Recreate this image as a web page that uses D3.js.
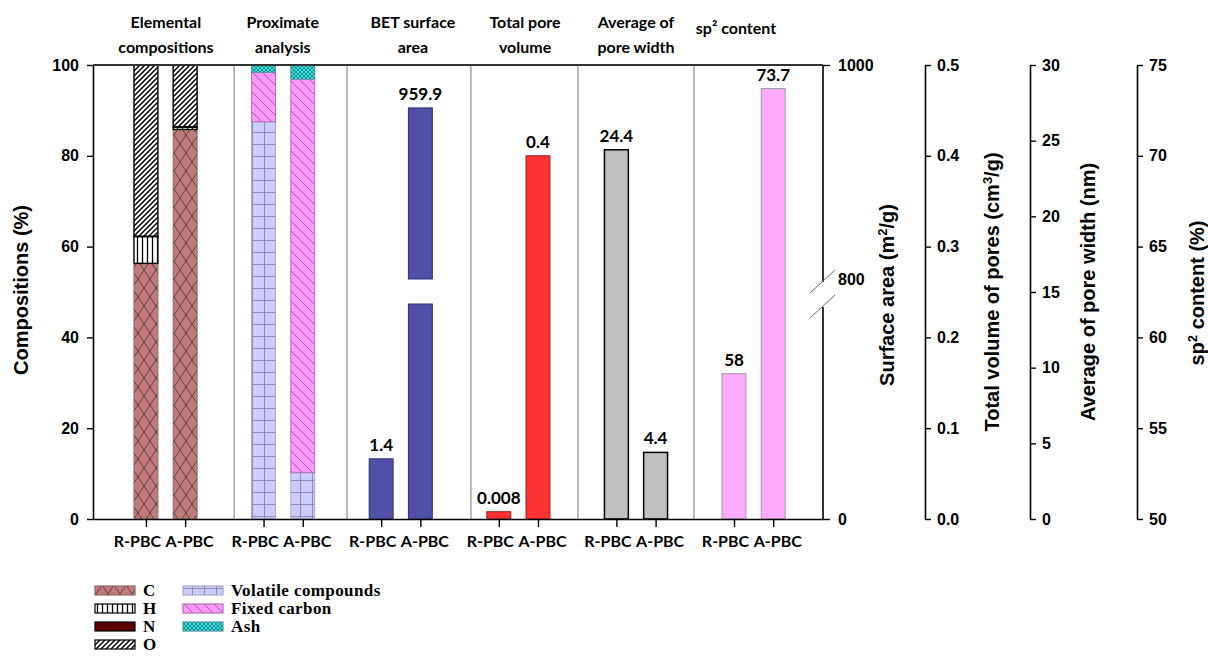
<!DOCTYPE html>
<html>
<head>
<meta charset="utf-8">
<script src="https://cdn.jsdelivr.net/npm/d3@7"></script>
<style>
  body { margin: 0; background: #fff; }
  svg { display: block; }
  .tickTxt { font-family: "Liberation Sans", Arial, sans-serif; font-weight: bold; font-size: 16px; }
  .catTxt { font-family: "Lato", sans-serif; font-weight: bold; font-size: 16px; }
  .title { font-family: "Lato", sans-serif; font-weight: bold; font-size: 16px; }
  .axTitle { font-family: "Liberation Sans", Arial, sans-serif; font-weight: bold; font-size: 20px; }
  .val { font-family: "Lato", sans-serif; font-weight: bold; font-size: 17px; }
  .leg { font-family: "Liberation Serif", "Times New Roman", serif; font-weight: bold; font-size: 17px; letter-spacing: 0.4px; }
</style>
</head>
<body>
<svg id="chart"></svg>
<script>
var width = 1208, height = 660;

// ---- data ----
var samples = ["R-PBC", "A-PBC"];
var groupTitles = [["Elemental", "compositions"], ["Proximate", "analysis"], ["BET surface", "area"],
                   ["Total pore", "volume"], ["Average of", "pore width"], ["sp² content"]];

var elemKeys = ["C", "H", "N", "O"];
var elemC = [56.3, 85.8];
var elemH = [5.9, 0.5];
var elemN = [0.1, 0.1];
var elemO = [37.7, 13.6];

var proxKeys = ["Volatile compounds", "Fixed carbon", "Ash"];
var volatile = [87.5, 10.2];
var fixedCarbon = [10.9, 86.7];
var ash = [1.6, 3.1];

var surfaceArea = [1.4, 959.9];
var poreVolume = [0.008, 0.4];
var poreWidth = [24.4, 4.4];
var sp2Content = [58, 73.7];
var surfaceLabels = ["1.4", "959.9"];
var volumeLabels = ["0.008", "0.4"];
var widthLabels = ["24.4", "4.4"];
var sp2Labels = ["58", "73.7"];

var pctTicks = [0, 20, 40, 60, 80, 100];
var saTicks = [0, 800, 1000];
var volTicks = [0, 0.1, 0.2, 0.3, 0.4, 0.5];
var widTicks = [0, 5, 10, 15, 20, 25, 30];
var sp2Ticks = [50, 55, 60, 65, 70, 75];

// ---- layout ----
var plotTop = 65, plotBottom = 519, plotLeft = 93, plotRight = 823;
var sepUnits = [3.25, 6.13, 9.29, 12.02, 14.98];
var titleUnits = [1.51, 4.49, 7.81, 10.67, 13.5, 16.05];
var catShift = [-9, 4];

var svg = d3.select("#chart").attr("width", width).attr("height", height);

var x = d3.scaleLinear().domain([-0.35, 18.27]).range([plotLeft, plotRight]);
var barW = x(1.61) - x(1);
function pos(g, i) { return g * 3 + 1 + i; }

var yPct = d3.scaleLinear().domain([0, 100]).range([plotBottom, plotTop]);
var ySaLow = d3.scaleLinear().domain([0, 5]).range([plotBottom, 304]);
var ySaHigh = d3.scaleLinear().domain([800, 1000]).range([279, plotTop]);
var yVol = d3.scaleLinear().domain([0, 0.5]).range([plotBottom, plotTop]);
var yWid = d3.scaleLinear().domain([0, 30]).range([plotBottom, plotTop]);
var ySp2 = d3.scaleLinear().domain([50, 75]).range([plotBottom, plotTop]);

// ---- patterns ----
var defs = svg.append("defs");
function pattern(id, w, h, fill, d, stroke, sw) {
  var p = defs.append("pattern").attr("id", id).attr("patternUnits", "userSpaceOnUse")
    .attr("width", w).attr("height", h);
  p.append("rect").attr("width", w).attr("height", h).attr("fill", fill);
  if (d) p.append("path").attr("d", d).attr("stroke", stroke).attr("stroke-width", sw).attr("fill", "none");
}
pattern("pC", 12, 18, "#c07c7c", "M0,0L12,18M12,0L0,18", "#5e3434", 0.9);
pattern("pH", 5, 10, "#ffffff", "M2.5,0V10", "#000", 1.3);
pattern("pN", 4, 4, "#5a0000", null);
pattern("pO", 5, 5, "#ffffff", "M0,5L5,0M-1,1L1,-1M4,6L6,4", "#000", 1.5);
pattern("pVol", 12, 12, "#ccccff", "M0,0.5H12M0.5,0V12", "#8484a8", 0.9);
pattern("pFC", 10, 10, "#ff99ff", "M0,0L10,10M-1,9L1,11M9,-1L11,1", "#8a4a8a", 0.8);
pattern("pAsh", 4, 4, "#33e3e3", "M0,0L4,4M4,0L0,4", "#1a6a6a", 0.7);

var elemStyle = { C: ["url(#pC)", "#8a6a6a"], H: ["url(#pH)", "#000"], N: ["url(#pN)", "#000"], O: ["url(#pO)", "#000"] };
var proxStyle = { "Volatile compounds": ["url(#pVol)", "#a8a8d0"], "Fixed carbon": ["url(#pFC)", "#b070b0"], "Ash": ["url(#pAsh)", "#4a9a9a"] };

// ---- stacked bars ----
var elemRows = samples.map(function (s, i) {
  return { C: elemC[i], H: elemH[i], N: elemN[i], O: elemO[i] };
});
var proxRows = samples.map(function (s, i) {
  return { "Volatile compounds": volatile[i], "Fixed carbon": fixedCarbon[i], "Ash": ash[i] };
});

function drawStack(rows, keys, styles, g) {
  var series = d3.stack().keys(keys)(rows);
  svg.append("g").selectAll("g").data(series).enter().append("g")
    .each(function (s) {
      d3.select(this).selectAll("rect").data(s).enter().append("rect")
        .attr("x", function (d, i) { return x(pos(g, i)) - barW / 2; })
        .attr("y", function (d) { return yPct(d[1]); })
        .attr("width", barW)
        .attr("height", function (d) { return yPct(d[0]) - yPct(d[1]); })
        .attr("fill", styles[s.key][0])
        .attr("stroke", styles[s.key][1])
        .attr("stroke-width", s.key == "O" || s.key == "H" ? 1.4 : 1);
    });
}
drawStack(elemRows, elemKeys, elemStyle, 0);
drawStack(proxRows, proxKeys, proxStyle, 1);

// ---- simple bars ----
function drawBars(vals, labels, yS, g, fill, stroke, sw) {
  var gg = svg.append("g");
  gg.selectAll("rect").data(vals).enter().append("rect")
    .attr("x", function (d, i) { return x(pos(g, i)) - barW / 2; })
    .attr("y", function (d) { return yS(d); })
    .attr("width", barW)
    .attr("height", function (d) { return yS.range()[0] - yS(d); })
    .attr("fill", fill).attr("stroke", stroke).attr("stroke-width", sw);
  gg.selectAll("text").data(vals).enter().append("text")
    .attr("class", "val")
    .attr("x", function (d, i) { return x(pos(g, i)); })
    .attr("y", function (d) { return yS(d) - 8; })
    .attr("text-anchor", "middle")
    .text(function (d, i) { return labels[i]; });
}

// surface area with a broken scale
var saGroup = svg.append("g");
surfaceArea.forEach(function (v, i) {
  var cx = x(pos(2, i));
  if (v > ySaLow.domain()[1]) {
    saGroup.append("rect").attr("x", cx - barW / 2).attr("y", ySaLow(5)).attr("width", barW)
      .attr("height", plotBottom - ySaLow(5)).attr("fill", "#5050a8").attr("stroke", "#2e2e6e");
    saGroup.append("rect").attr("x", cx - barW / 2).attr("y", ySaHigh(v)).attr("width", barW)
      .attr("height", ySaHigh(800) - ySaHigh(v)).attr("fill", "#5050a8").attr("stroke", "#2e2e6e");
    saGroup.append("text").attr("class", "val").attr("x", cx).attr("y", ySaHigh(v) - 8)
      .attr("text-anchor", "middle").text(surfaceLabels[i]);
  } else {
    saGroup.append("rect").attr("x", cx - barW / 2).attr("y", ySaLow(v)).attr("width", barW)
      .attr("height", plotBottom - ySaLow(v)).attr("fill", "#5050a8").attr("stroke", "#2e2e6e");
    saGroup.append("text").attr("class", "val").attr("x", cx).attr("y", ySaLow(v) - 8)
      .attr("text-anchor", "middle").text(surfaceLabels[i]);
  }
});

drawBars(poreVolume, volumeLabels, yVol, 3, "#ff3333", "#a01818", 1);
drawBars(poreWidth, widthLabels, yWid, 4, "#c0c0c0", "#000", 1.5);
drawBars(sp2Content, sp2Labels, ySp2, 5, "#ffaaff", "#999", 1);

// ---- separators and frame ----
svg.append("g").selectAll("line").data(sepUnits).enter().append("line")
  .attr("x1", function (d) { return x(d); }).attr("x2", function (d) { return x(d); })
  .attr("y1", plotTop).attr("y2", plotBottom)
  .attr("stroke", "#777").attr("stroke-width", 1);

svg.append("line").attr("x1", plotLeft).attr("x2", plotRight).attr("y1", plotTop).attr("y2", plotTop)
  .attr("stroke", "#333").attr("stroke-width", 2.2);

// ---- axes ----
function styleAxis(g, cls) {
  g.attr("font-family", null).attr("font-size", null);
  g.selectAll(".domain").attr("stroke", "#000").attr("stroke-width", 1.6);
  g.selectAll(".tick line").attr("stroke", "#000").attr("stroke-width", 1.4);
  g.selectAll(".tick text").attr("class", cls).attr("fill", "#000");
}

var allTicks = [];
for (var g = 0; g < 6; g++) { allTicks.push(pos(g, 0), pos(g, 1)); }
var xAxis = svg.append("g").attr("transform", "translate(0," + plotBottom + ")")
  .call(d3.axisBottom(x).tickValues(allTicks).tickSize(8).tickSizeOuter(0).tickPadding(9)
    .tickFormat(function (d, i) { return samples[i % 2]; }));
styleAxis(xAxis, "catTxt");
xAxis.selectAll(".tick text").attr("dx", function (d, i) { return catShift[i % 2]; });

var yAxis = svg.append("g").attr("transform", "translate(" + plotLeft + ",0)")
  .call(d3.axisLeft(yPct).tickValues(pctTicks).tickSize(6).tickSizeOuter(0).tickPadding(8));
styleAxis(yAxis, "tickTxt");

// surface area axis (broken)
var saLowAx = svg.append("g").attr("transform", "translate(" + plotRight + ",0)")
  .call(d3.axisRight(ySaLow).tickValues([saTicks[0]]).tickSize(7).tickSizeOuter(0).tickPadding(8)
    .tickFormat(d3.format("d")));
var saHighAx = svg.append("g").attr("transform", "translate(" + plotRight + ",0)")
  .call(d3.axisRight(ySaHigh).tickValues(saTicks.slice(1)).tickSize(7).tickSizeOuter(0).tickPadding(8)
    .tickFormat(d3.format("d")));
styleAxis(saLowAx, "tickTxt");
styleAxis(saHighAx, "tickTxt");
saHighAx.selectAll(".tick").filter(function (d) { return d === 800; }).select("line").remove();
saHighAx.select(".domain").attr("d", "M0," + plotTop + "V" + (ySaHigh(800) + 3));
saLowAx.select(".domain").attr("d", "M0," + (ySaLow(5) + 3) + "V" + plotBottom);
// break marks
[ySaHigh(800) + 3, ySaLow(5) + 3].forEach(function (yy) {
  svg.append("line").attr("x1", plotRight - 13).attr("y1", yy + 11).attr("x2", plotRight + 12).attr("y2", yy - 12)
    .attr("stroke", "#666").attr("stroke-width", 1);
});

var rightAxes = [[yVol, volTicks, 925, d3.format(".1f")], [yWid, widTicks, 1030, d3.format("d")], [ySp2, sp2Ticks, 1137, d3.format("d")]];
rightAxes.forEach(function (r) {
  var a = svg.append("g").attr("transform", "translate(" + r[2] + ",0)")
    .call(d3.axisRight(r[0]).tickValues(r[1]).tickSize(6).tickSizeOuter(0).tickPadding(6).tickFormat(r[3]));
  styleAxis(a, "tickTxt");
});

// ---- axis titles ----
function vTitle(xp, yp, parts) {
  var t = svg.append("text").attr("class", "axTitle")
    .attr("transform", "translate(" + xp + "," + yp + ") rotate(-90)")
    .attr("text-anchor", "middle");
  parts.forEach(function (p) {
    var ts = t.append("tspan").text(p[0]);
    if (p[1]) ts.attr("baseline-shift", "super").attr("font-size", "13px");
  });
}
vTitle(28, 290, [["Compositions (%)"]]);
vTitle(894, 295, [["Surface area (m"], ["2", true], ["/g)"]]);
vTitle(999, 292, [["Total volume of pores (cm"], ["3", true], ["/g)"]]);
vTitle(1095, 292, [["Average of pore width (nm)"]]);
vTitle(1204, 293, [["sp"], ["2", true], [" content (%)"]]);

// ---- group titles ----
groupTitles.forEach(function (lines, i) {
  var t = svg.append("text").attr("class", "title").attr("text-anchor", "middle");
  if (lines.length == 1) {
    t.append("tspan").attr("x", x(titleUnits[i])).attr("y", 34).text(lines[0]);
  } else {
    lines.forEach(function (l, j) {
      t.append("tspan").attr("x", x(titleUnits[i])).attr("y", 28 + j * 25).text(l);
    });
  }
});

// ---- legend ----
var legCols = [[elemKeys, elemStyle, 95], [proxKeys, proxStyle, 183]];
legCols.forEach(function (c) {
  c[0].forEach(function (k, j) {
    var yy = 586 + j * 18;
    svg.append("rect").attr("x", c[2]).attr("y", yy).attr("width", 40).attr("height", 9)
      .attr("fill", c[1][k][0]).attr("stroke", c[1][k][1]).attr("stroke-width", 1.2);
    svg.append("text").attr("class", "leg").attr("x", c[2] + 48).attr("y", yy + 10).text(k);
  });
});
</script>
</body>
</html>
